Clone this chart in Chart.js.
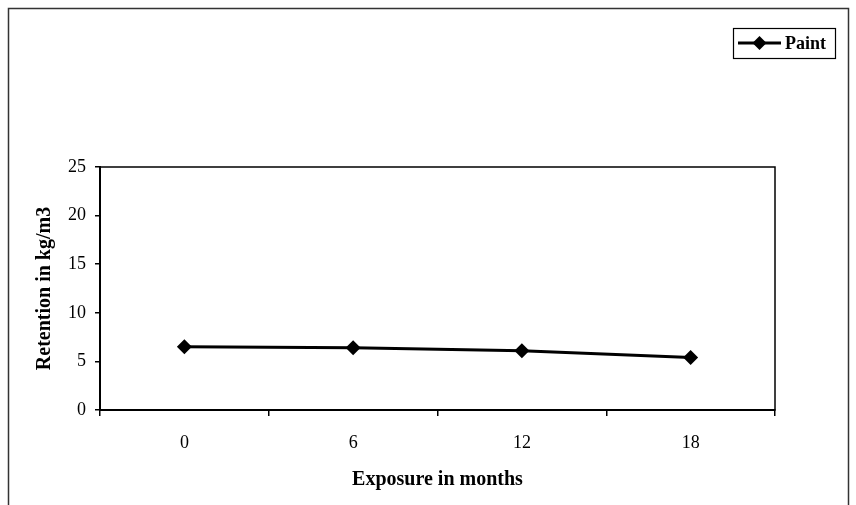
<!DOCTYPE html>
<html>
<head>
<meta charset="utf-8">
<script src="https://cdn.jsdelivr.net/npm/chart.js@4"></script>
<style>
  html, body { margin: 0; padding: 0; background: #fff; }
  #wrap { width: 856px; height: 505px; }
</style>
</head>
<body>
<div id="wrap"><canvas id="chart"></canvas></div>
<script>
// data
const months = ['0', '6', '12', '18'];
const paint = [6.5, 6.4, 6.1, 5.4];
const yTicks = [0, 5, 10, 15, 20, 25];
const seriesName = 'Paint';

const serif = '"Liberation Serif", "DejaVu Serif", serif';

// frame, plot box and the excel-style legend box
const framePlugin = {
  id: 'frame',
  beforeDraw(chart) {
    const ctx = chart.ctx;
    ctx.save();
    ctx.fillStyle = '#fff';
    ctx.fillRect(0, 0, chart.width, chart.height);
    ctx.restore();
  },
  afterDraw(chart) {
    const { ctx, chartArea: a } = chart;
    ctx.save();
    ctx.strokeStyle = '#000';
    ctx.lineWidth = 1.5;
    ctx.strokeRect(a.left, a.top, a.right - a.left, a.bottom - a.top);

    ctx.strokeStyle = '#333';
    ctx.lineWidth = 1.5;
    ctx.strokeRect(8.5, 8.5, 840, 530);

    // legend
    const ds = chart.data.datasets[0];
    ctx.strokeStyle = '#000';
    ctx.lineWidth = 1.2;
    ctx.strokeRect(733.5, 28.5, 102, 30);
    ctx.lineWidth = 3;
    ctx.beginPath();
    ctx.moveTo(738, 43);
    ctx.lineTo(781, 43);
    ctx.stroke();
    ctx.fillStyle = '#000';
    ctx.beginPath();
    ctx.moveTo(759.5, 36);
    ctx.lineTo(766.5, 43);
    ctx.lineTo(759.5, 50);
    ctx.lineTo(752.5, 43);
    ctx.closePath();
    ctx.fill();
    ctx.font = 'bold 18px ' + serif;
    ctx.textBaseline = 'middle';
    ctx.fillText(ds.label, 785, 44);
    ctx.restore();
  }
};

const ctx = document.getElementById('chart').getContext('2d');
new Chart(ctx, {
  type: 'line',
  data: {
    labels: months,
    datasets: [{
      label: seriesName,
      data: paint,
      borderColor: '#000',
      backgroundColor: '#000',
      borderWidth: 3,
      pointStyle: 'rectRot',
      pointRadius: 7.5,
      pointBorderWidth: 0,
      tension: 0
    }]
  },
  options: {
    responsive: true,
    maintainAspectRatio: false,
    animation: false,
    layout: { padding: { left: 8, right: 81, top: 167, bottom: 10 } },
    plugins: {
      legend: { display: false },
      tooltip: { enabled: false }
    },
    scales: {
      x: {
        offset: true,
        afterFit: s => { s.height = 85; },
        grid: { offset: true, drawOnChartArea: false, tickLength: 6, color: '#000', lineWidth: 1.5 },
        border: { color: '#000', width: 2 },
        ticks: { color: '#000', padding: 16, font: { family: serif, size: 18 } },
        title: {
          display: true,
          text: 'Exposure in months',
          color: '#000',
          font: { family: serif, size: 20, weight: 'bold' },
          padding: { top: 0, bottom: 3 }
        }
      },
      y: {
        min: 0,
        max: 25,
        afterFit: s => { s.width = 92; },
        afterBuildTicks: s => { s.ticks = yTicks.map(v => ({ value: v })); },
        grid: { drawOnChartArea: false, tickLength: 5, color: '#000', lineWidth: 1.5 },
        border: { color: '#000', width: 2 },
        ticks: { color: '#000', padding: 9, font: { family: serif, size: 18 } },
        title: {
          display: true,
          text: 'Retention in kg/m3',
          color: '#000',
          font: { family: serif, size: 20, weight: 'bold' },
          padding: { top: 25, bottom: 0 }
        }
      }
    }
  },
  plugins: [framePlugin]
});
</script>
</body>
</html>
